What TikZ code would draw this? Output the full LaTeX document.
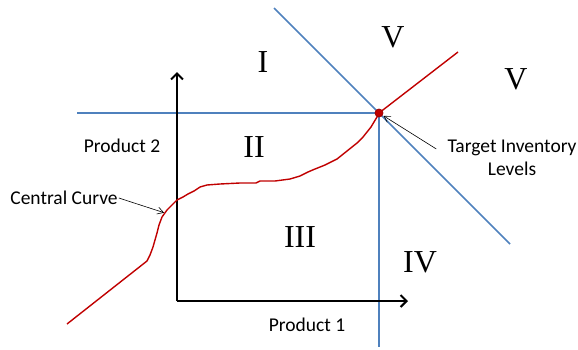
\documentclass[tikz,border=0pt]{standalone}
\usepackage{fontspec}
\setmainfont{Liberation Serif}
\newfontfamily\labelfont{Carlito}
\usetikzlibrary{arrows.meta}
\definecolor{RegionBlue}{HTML}{4F81BD}
\definecolor{CurveRed}{HTML}{C00000}
\definecolor{DotEdge}{HTML}{A00000}
\tikzset{
  chart/.style={x=1pt,y=-1pt,line join=round},
  boundary/.style={draw=RegionBlue,line width=1.5pt},
  curve/.style={draw=CurveRed,line width=1.4pt},
  axis/.style={draw=black,line width=2.4pt,-{Straight Barb[length=6pt,width=12pt,line width=2pt]}},
  region/.style={font=\fontsize{32}{34}\selectfont},
  caption/.style={font=\labelfont\fontsize{19.5}{23}\selectfont,align=center,inner sep=1pt},
  pointer/.style={draw=black,line width=0.6pt,-{Straight Barb[length=6pt,width=7pt]},shorten >=1pt},
}
\begin{document}
\begin{tikzpicture}[chart]
  \useasboundingbox (0,0) rectangle (578,349);

  % region boundaries
  \coordinate (target) at (379,113);
  \draw[boundary] (77,113) -- (target) -- (379,347);
  \draw[boundary] (274,8) -- (510,244);

  % axes
  \coordinate (origin) at (177,301);
  \draw[axis] (origin) -- (177,72);
  \draw[axis] (origin) -- (408,301);

  % central curve
  \draw[curve] (67,324) -- (147,261) -- (150,255) -- (153,247) -- (155,240)
    -- (157,233) -- (159,225) -- (162,217) -- (167,210) -- (172,205)
    -- (177,200) -- (183,197) -- (188,194) -- (194,191) -- (200,187)
    -- (207,185) -- (220,184) -- (240,183) -- (256,183) -- (260,181)
    -- (275,181) -- (290,179) -- (300,176) -- (308,172) -- (315,169)
    -- (325,165) -- (337,159) -- (347,151) -- (357,143) -- (363,137)
    -- (367,132) -- (371,127) -- (374,122) -- (377,117) -- (target)
    -- (458,52);
  \node[circle,fill=CurveRed,draw=DotEdge,line width=0.8pt,
        minimum size=8pt,inner sep=0pt] (dot) at (target) {};

  % regions
  \node[region] (r1) at (263,62) {I};
  \node[region] (r5a) at (393,37) {V};
  \node[region] (r5b) at (516,79) {V};
  \node[region] (r2) at (254,147) {II};
  \node[region] (r3) at (300,237) {III};
  \node[region] (r4) at (420,262) {IV};

  % labels
  \node[caption] (p2) at (122,146) {Product 2};
  \node[caption] (p1) at (307,325) {Product 1};
  \node[caption] (cc) at (64,198) {Central Curve};
  \node[caption] (til) at (512,158) {Target Inventory\\Levels};
  \coordinate (cctip) at (165,213);
  \draw[pointer] (cc.east) -- (cctip);
  \draw[pointer] (til.north west) ++(-10,10) coordinate (tilfoot) -- (dot);
\end{tikzpicture}
\end{document}
